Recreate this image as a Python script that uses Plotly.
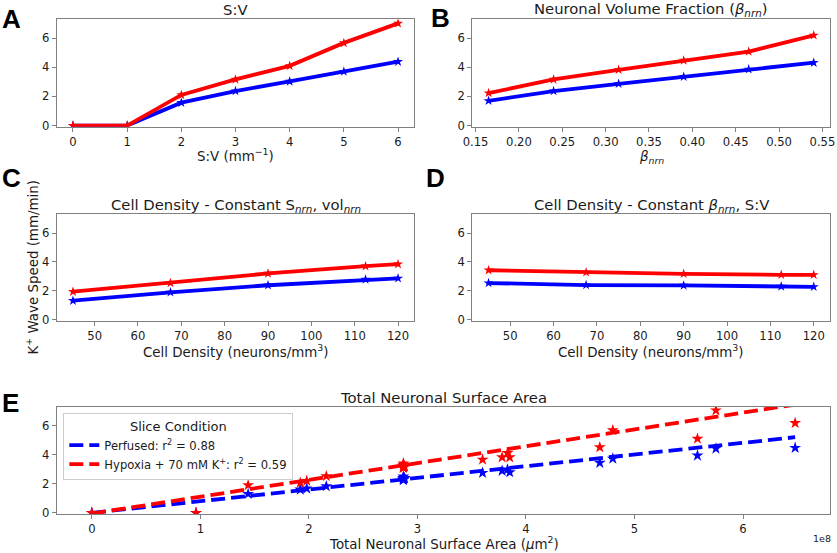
import plotly.graph_objects as go

# ---------------- data ----------------
sv = [0, 1, 2, 3, 4, 5, 6]
sv_perf = [0, 0, 1.57, 2.37, 3.03, 3.71, 4.39]
sv_hyp = [0, 0, 2.10, 3.17, 4.10, 5.68, 7.02]

beta = [0.165, 0.24, 0.315, 0.39, 0.465, 0.54]
beta_perf = [1.70, 2.37, 2.87, 3.36, 3.86, 4.32]
beta_hyp = [2.23, 3.17, 3.83, 4.47, 5.08, 6.20]

dens = [45, 67.5, 90, 112.5, 120]
dens_c_perf = [1.31, 1.89, 2.38, 2.78, 2.86]
dens_c_hyp = [1.93, 2.54, 3.20, 3.70, 3.84]
dens_d_perf = [2.53, 2.39, 2.37, 2.30, 2.27]
dens_d_hyp = [3.42, 3.28, 3.17, 3.10, 3.10]

# total neuronal surface area (x 1e8 um^2)
e_area = [0, 0.96, 1.92, 2.87, 3.83, 4.80, 5.75,
          1.98, 2.88, 3.78, 4.68, 5.58, 6.48,
          1.44, 2.16, 2.88, 3.60, 3.85,
          2.87, 2.87, 2.87, 2.87, 2.87]
e_perf = [0, 0, 1.60, 2.35, 2.98, 3.73, 4.42,
          1.67, 2.38, 2.89, 3.44, 3.94, 4.47,
          1.30, 1.83, 2.38, 2.75, 2.79,
          2.50, 2.40, 2.35, 2.30, 2.25]
e_hyp = [0, 0, 2.06, 3.15, 4.12, 5.68, 7.05,
         2.20, 3.20, 3.82, 4.51, 5.10, 6.18,
         1.90, 2.52, 3.20, 3.66, 3.82,
         3.40, 3.30, 3.15, 3.10, 3.10]
fit_x = [0, 6.48]
fit_perf = [0.0, 5.2]
fit_hyp = [-0.05, 7.45]

y_ticks = [0, 2, 4, 6]
sv_ticks = [0, 1, 2, 3, 4, 5, 6]
beta_ticks = [0.15, 0.20, 0.25, 0.30, 0.35, 0.40, 0.45, 0.50, 0.55]
dens_ticks = [50, 60, 70, 80, 90, 100, 110, 120]
area_ticks = [0, 1, 2, 3, 4, 5, 6]

# ---------------- styling ----------------
W, H = 837, 553
BLUE = "#0000ff"
RED = "#ff0000"
SPINE = "#808080"
TXT = "#1a1a1a"
FONT = "DejaVu Sans"


def px(x):
    return x / W


def py(y):
    return 1 - y / H


fig = go.Figure()


def line_pair(x, yb, yr, ax):
    for yy, col in ((yb, BLUE), (yr, RED)):
        fig.add_trace(go.Scatter(
            x=x, y=yy, mode="lines+markers", xaxis="x" + ax, yaxis="y" + ax,
            line=dict(color=col, width=3.8),
            marker=dict(symbol="star", size=7.5, color=col),
            showlegend=False, hoverinfo="skip"))


line_pair(sv, sv_perf, sv_hyp, "")
line_pair(beta, beta_perf, beta_hyp, "2")
line_pair(dens, dens_c_perf, dens_c_hyp, "3")
line_pair(dens, dens_d_perf, dens_d_hyp, "4")

# panel E
fig.add_trace(go.Scatter(x=fit_x, y=fit_perf, mode="lines", xaxis="x5", yaxis="y5",
                         line=dict(color=BLUE, width=3.8, dash="14px,6px"),
                         name="Perfused: r<sup>2</sup> = 0.88", hoverinfo="skip"))
fig.add_trace(go.Scatter(x=fit_x, y=fit_hyp, mode="lines", xaxis="x5", yaxis="y5",
                         line=dict(color=RED, width=3.8, dash="14px,6px"),
                         name="Hypoxia + 70 mM K<sup>+</sup>: r<sup>2</sup> = 0.59",
                         hoverinfo="skip"))
fig.add_trace(go.Scatter(x=e_area, y=e_perf, mode="markers", xaxis="x5", yaxis="y5",
                         marker=dict(symbol="star", size=9, color=BLUE),
                         showlegend=False, hoverinfo="skip"))
fig.add_trace(go.Scatter(x=e_area, y=e_hyp, mode="markers", xaxis="x5", yaxis="y5",
                         marker=dict(symbol="star", size=9, color=RED),
                         showlegend=False, hoverinfo="skip"))

tickfont = dict(family=FONT, size=11.6, color=TXT)
base = dict(showline=True, mirror=True, linecolor=SPINE, linewidth=1,
            ticks="outside", ticklen=4, tickwidth=1, tickcolor=SPINE,
            showgrid=False, zeroline=False, tickfont=tickfont, automargin=False)

xA = [px(56.7), px(414.3)]
xB = [px(472.3), px(830.0)]
xE = [px(56.7), px(830.3)]
yAB = [py(126.7), py(19.3)]
yCD = [py(320.7), py(214.3)]
yE = [py(514.0), py(406.7)]
YR = [-0.08, 7.3]

ydict = dict(base, range=YR, tickvals=y_ticks, ticktext=[str(v) for v in y_ticks])

fig.update_layout(
    xaxis=dict(base, domain=xA, anchor="y", range=[-0.3, 6.3],
               tickvals=sv_ticks, ticktext=[str(v) for v in sv_ticks]),
    yaxis=dict(ydict, domain=yAB, anchor="x"),
    xaxis2=dict(base, domain=xB, anchor="y2", range=[0.14625, 0.55875],
                tickvals=beta_ticks, ticktext=["%.2f" % v for v in beta_ticks]),
    yaxis2=dict(ydict, domain=yAB, anchor="x2"),
    xaxis3=dict(base, domain=xA, anchor="y3", range=[41.25, 123.75],
                tickvals=dens_ticks, ticktext=[str(v) for v in dens_ticks]),
    yaxis3=dict(ydict, domain=yCD, anchor="x3"),
    xaxis4=dict(base, domain=xB, anchor="y4", range=[41.25, 123.75],
                tickvals=dens_ticks, ticktext=[str(v) for v in dens_ticks]),
    yaxis4=dict(ydict, domain=yCD, anchor="x4"),
    xaxis5=dict(base, domain=xE, anchor="y5", range=[-0.324, 6.804],
                tickvals=area_ticks, ticktext=[str(v) for v in area_ticks]),
    yaxis5=dict(ydict, domain=yE, anchor="x5"),
)

ann = []


def text(x, y, s, size, bold=False, family=FONT, angle=0, xanchor="center"):
    ann.append(dict(x=px(x), y=py(y), xref="paper", yref="paper", text=s,
                    showarrow=False, xanchor=xanchor, yanchor="middle",
                    textangle=angle, borderpad=0,
                    font=dict(family=family, size=size, color="#000" if bold else TXT)))


TS = 14.8
LS = 13.4
# titles
text(235.5, 10, "S:V", TS)
text(651, 10, "Neuronal Volume Fraction (<i>β</i><sub><i>nrn</i></sub>)", TS)
text(235.5, 205, "Cell Density - Constant S<sub><i>nrn</i></sub>, vol<sub><i>nrn</i></sub>", TS)
text(651, 205, "Cell Density - Constant <i>β</i><sub><i>nrn</i></sub>, S:V", TS)
text(443.5, 397.5, "Total Neuronal Surface Area", TS)
# axis labels
text(235.5, 154.5, "S:V (mm<sup>−1</sup>)", LS)
text(651, 157, "<i>β</i><sub><i>nrn</i></sub>", LS)
text(235.5, 350.5, "Cell Density (neurons/mm<sup>3</sup>)", LS)
text(651, 350.5, "Cell Density (neurons/mm<sup>3</sup>)", LS)
text(443.5, 542.5, "Total Neuronal Surface Area (<i>μ</i>m<sup>2</sup>)", LS)
text(32, 267.5, "K<sup>+</sup> Wave Speed (mm/min)", LS, angle=-90)
text(822, 538, "1e8", 9.5)
# panel letters
LF = "Liberation Sans"
for lx, ly, lt in ((11.5, 19, "A"), (440, 18, "B"), (11, 177.5, "C"),
                   (436, 178, "D"), (10, 402.5, "E")):
    text(lx, ly, "<b>%s</b>" % lt, 26, bold=True, family=LF)

fig.update_layout(
    annotations=ann,
    width=W, height=H,
    margin=dict(l=0, r=0, t=0, b=0, autoexpand=False),
    paper_bgcolor="white", plot_bgcolor="white",
    showlegend=True,
    legend=dict(x=px(63.3), y=py(412.7), xanchor="left", yanchor="top",
                bgcolor="rgba(255,255,255,0.85)", bordercolor="#cccccc", borderwidth=1,
                font=dict(family=FONT, size=11.6, color=TXT),
                title=dict(text="Slice Condition", side="top center",
                           font=dict(family=FONT, size=13, color=TXT)),
                tracegroupgap=0, itemwidth=30),
)

fig.write_html("out.html", config={"displayModeBar": False},
               post_script="document.body.style.margin='0';document.body.style.overflow='hidden';")
